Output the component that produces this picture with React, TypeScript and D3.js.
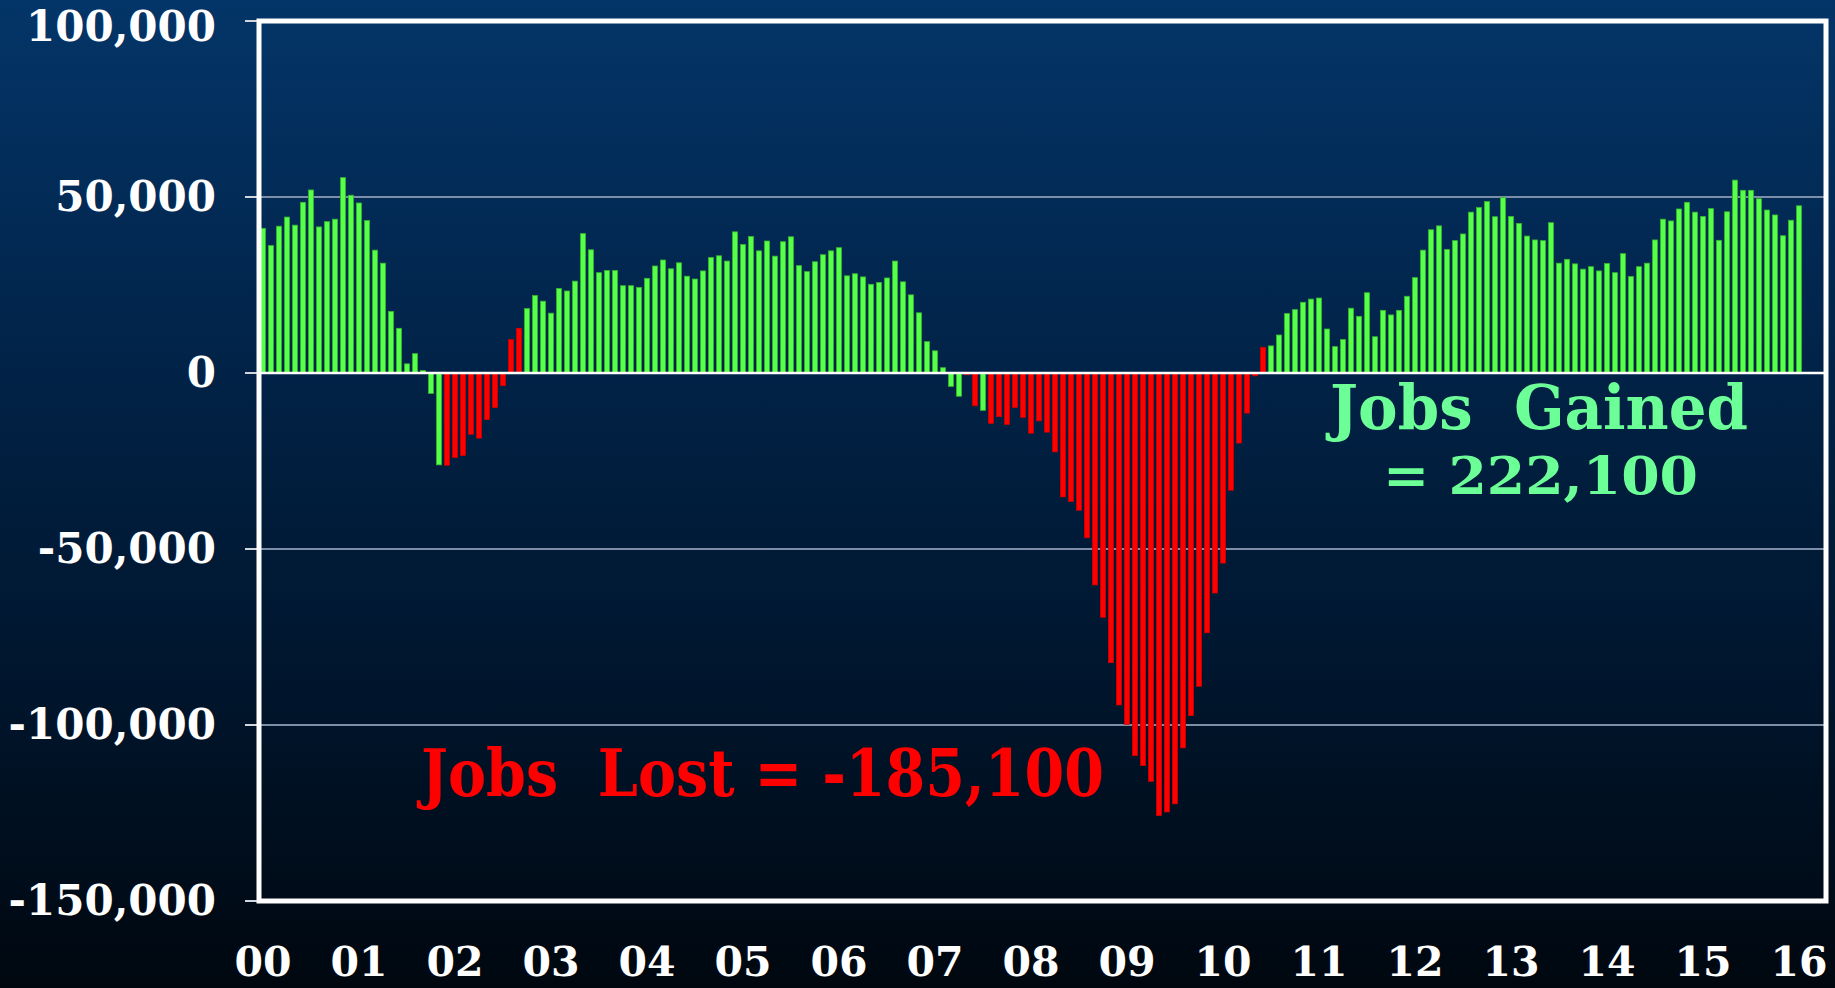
import React from "react";
import * as d3 from "d3";

// Monthly net jobs change, Jan 2000 .. Jan 2016 (193 months)
const jobs2000 = [41100, 36200, 41700, 44300, 42000, 48500, 52000, 41500, 43000, 43700, 55500, 50500];
const jobs2001 = [48300, 43300, 34900, 31200, 17500, 12700, 2600, 5500, 700, -5800, -26100, -26200];
const jobs2002 = [-24000, -23400, -17400, -18500, -13200, -9800, -3600, 9500, 12700, 18300, 22000, 20400];
const jobs2003 = [17000, 24000, 23300, 26100, 39600, 35000, 28500, 29100, 29100, 24800, 24800, 24300];
const jobs2004 = [26900, 30400, 32100, 29600, 31300, 27500, 26700, 29000, 32800, 33300, 31800, 40100];
const jobs2005 = [36500, 38800, 34700, 37500, 33200, 37300, 38700, 30500, 28800, 31600, 33600, 34700];
const jobs2006 = [35600, 27600, 28200, 27300, 25200, 25700, 27000, 31800, 25900, 22200, 17100, 8900];
const jobs2007 = [6300, 1500, -3800, -6600, -500, -9300, -10600, -14300, -12400, -14600, -9800, -12600];
const jobs2008 = [-17100, -13600, -16800, -22400, -35200, -36500, -39000, -46800, -60200, -69400, -82300, -94300];
const jobs2009 = [-99800, -108700, -111500, -116000, -125700, -124700, -122400, -106500, -97300, -89000, -73800, -62500];
const jobs2010 = [-54000, -33300, -19900, -11400, -800, 7300, 7700, 10800, 16900, 18000, 20100, 21000];
const jobs2011 = [21300, 12500, 7500, 9500, 18400, 16100, 22800, 10300, 17800, 16500, 17800, 21800];
const jobs2012 = [27100, 34900, 40700, 41800, 35100, 37600, 39500, 45700, 47000, 48700, 44400, 49800];
const jobs2013 = [44500, 42500, 38900, 37800, 37600, 42700, 31200, 32300, 31000, 29500, 30200, 29000];
const jobs2014 = [31100, 28500, 33900, 27400, 30200, 31200, 37800, 43700, 43200, 46600, 48500, 45700];
const jobs2015 = [44500, 46700, 37700, 45800, 54800, 51900, 51900, 49500, 46300, 44900, 39000, 43400];
const jobs2016 = [47500];

// Month indices (0 = Jan 2000) drawn in red
const redMonths = [
  23, 24, 25, 26, 27, 28, 29, 30, 31, 32,
  88, 89, 91, 92, 93, 94, 95, 96, 97, 98, 99, 100, 101, 102, 103, 104, 105,
  106, 107, 108, 109, 110, 111, 112, 113, 114, 115, 116, 117, 118, 119, 120,
  121, 122, 123, 124, 125,
];

const xLabels = ["00", "01", "02", "03", "04", "05", "06", "07", "08", "09", "10", "11", "12", "13", "14", "15", "16"];
const yTicks = [100000, 50000, 0, -50000, -100000, -150000];
const yTickLabels = ["100,000", "50,000", "0", "-50,000", "-100,000", "-150,000"];

const gainedLine1 = "Jobs  Gained";
const gainedLine2 = "= 222,100";
const lostText = "Jobs  Lost = -185,100";

const values = [
  ...jobs2000, ...jobs2001, ...jobs2002, ...jobs2003, ...jobs2004, ...jobs2005,
  ...jobs2006, ...jobs2007, ...jobs2008, ...jobs2009, ...jobs2010, ...jobs2011,
  ...jobs2012, ...jobs2013, ...jobs2014, ...jobs2015, ...jobs2016,
];

const W = 1835;
const H = 988;
const FONT = "'DejaVu Serif', Georgia, serif";

export default function App() {
  const redSet = new Set(redMonths);
  const x = d3.scaleLinear().domain([0, values.length - 1]).range([263, 1799]);
  const y = d3.scaleLinear().domain([-150000, 100000]).range([901, 21]);
  const frameLeft = 259;
  const frameRight = 1826;
  const barW = 5;

  return (
    <svg
      width={W}
      height={H}
      style={{ position: "absolute", left: 0, top: 0, display: "block" }}
    >
      <defs>
        <linearGradient id="bg" x1="0" y1="0" x2="0" y2="1">
          <stop offset="0" stopColor="#043568" />
          <stop offset="0.22" stopColor="#022a55" />
          <stop offset="0.45" stopColor="#011f40" />
          <stop offset="0.7" stopColor="#00152c" />
          <stop offset="0.9" stopColor="#000c19" />
          <stop offset="1" stopColor="#00070f" />
        </linearGradient>
      </defs>
      <rect x={0} y={0} width={W} height={H} fill="url(#bg)" />

      {/* gridlines */}
      {yTicks
        .filter((t) => t !== 0 && t !== 100000 && t !== -150000)
        .map((t) => (
          <line
            key={"g" + t}
            x1={frameLeft}
            x2={frameRight}
            y1={y(t)}
            y2={y(t)}
            stroke="#7d8fa8"
            strokeWidth={2}
          />
        ))}

      {/* tick marks */}
      {yTicks.map((t) => (
        <line
          key={"t" + t}
          x1={245}
          x2={frameLeft}
          y1={y(t)}
          y2={y(t)}
          stroke="#d0d6de"
          strokeWidth={2}
        />
      ))}

      {/* bars */}
      {values.map((v, i) => {
        const red = redSet.has(i);
        const y0 = y(0);
        const y1 = y(v);
        return (
          <rect
            key={"b" + i}
            x={x(i) - barW / 2}
            y={Math.min(y0, y1)}
            width={barW}
            height={Math.max(1, Math.abs(y1 - y0))}
            fill={red ? "#ff0000" : "#55ff4a"}
            stroke={red ? "#d00000" : "#38b530"}
            strokeWidth={0.8}
          />
        );
      })}

      {/* frame */}
      <rect
        x={frameLeft}
        y={y(100000)}
        width={frameRight - frameLeft}
        height={y(-150000) - y(100000)}
        fill="none"
        stroke="#ffffff"
        strokeWidth={5}
      />

      {/* zero line */}
      <line x1={frameLeft} x2={frameRight} y1={y(0)} y2={y(0)} stroke="#ffffff" strokeWidth={2.5} />

      {/* y labels */}
      {yTicks.map((t, i) => (
        <text
          key={"yl" + t}
          x={216}
          y={Math.max(y(t) + 14, 41)}
          textAnchor="end"
          fill="#ffffff"
          fontFamily={FONT}
          fontWeight="bold"
          fontSize={42}
        >
          {yTickLabels[i]}
        </text>
      ))}

      {/* x labels */}
      {xLabels.map((lab, k) => (
        <text
          key={"xl" + lab}
          x={x(k * 12)}
          y={976}
          textAnchor="middle"
          fill="#ffffff"
          fontFamily={FONT}
          fontWeight="bold"
          fontSize={41}
        >
          {lab}
        </text>
      ))}

      {/* annotations */}
      <text
        x={1330}
        y={429}
        fill="#6cff98"
        fontFamily={FONT}
        fontWeight="bold"
        fontSize={62}
        textLength={418}
        lengthAdjust="spacingAndGlyphs"
        style={{ whiteSpace: "pre" }}
      >
        {gainedLine1}
      </text>
      <text
        x={1383}
        y={494}
        fill="#6cff98"
        fontFamily={FONT}
        fontWeight="bold"
        fontSize={52}
        textLength={315}
        lengthAdjust="spacingAndGlyphs"
        style={{ whiteSpace: "pre" }}
      >
        {gainedLine2}
      </text>
      <text
        x={421}
        y={796}
        fill="#ff0000"
        fontFamily={FONT}
        fontWeight="bold"
        fontSize={66}
        textLength={683}
        lengthAdjust="spacingAndGlyphs"
        style={{ whiteSpace: "pre" }}
      >
        {lostText}
      </text>
    </svg>
  );
}
